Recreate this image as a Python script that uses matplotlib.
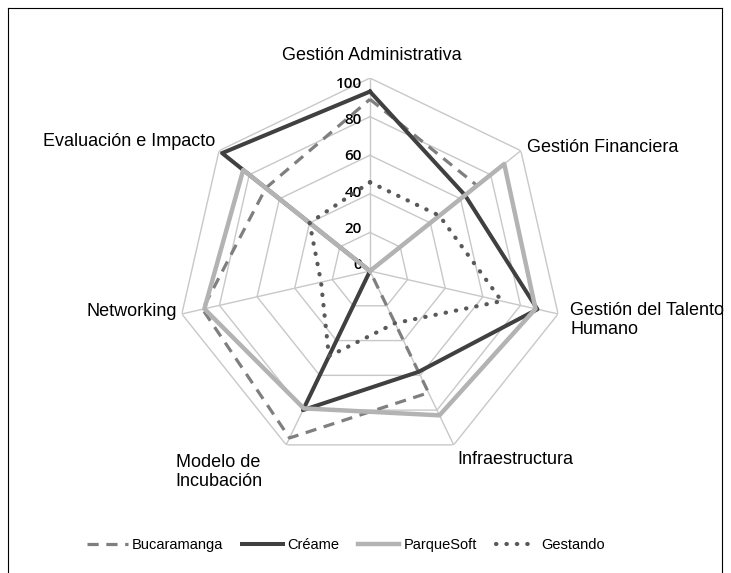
import matplotlib
matplotlib.use('Agg')

import numpy as np
from matplotlib import pyplot as plt
from matplotlib.lines import Line2D

categories = ["Gestión Administrativa", "Gestión Financiera", "Gestión del Talento\nHumano",
              "Infraestructura", "Modelo de\nIncubación", "Networking", "Evaluación e Impacto"]
bucaramanga = [89, 71, 0, 70, 96, 89, 69]
creame = [93, 63, 89, 58, 80, 0, 98]
parquesoft = [0, 89, 88, 83, 79, 88, 84]
gestando = [46, 46, 70, 30, 49, 26, 40]
levels = [0, 20, 40, 60, 80, 100]

# label placement relative to the outer vertex of each spoke (pixels)
label_style = [
    ('center', 'center', 2, 23),
    ('left', 'center', 6, 3),
    ('left', 'center', 12, -6),
    ('left', 'center', 4, -15),
    ('right', 'center', -24, -27),
    ('right', 'center', -5, 2),
    ('right', 'center', -4, 9),
]


def closed(vals):
    return list(vals) + [vals[0]]


def main():
    n = len(categories)
    theta = [2 * np.pi * i / n for i in range(n)]
    th = closed(theta)

    fig = plt.figure(figsize=(7.31, 5.73), dpi=100)
    ax = fig.add_axes([0.2421, 0.1902, 0.528, 0.6736], projection='polar')
    ax.set_theta_zero_location('N')
    ax.set_theta_direction(-1)
    ax.set_ylim(0, 100)
    ax.grid(False)
    ax.spines['polar'].set_visible(False)
    ax.patch.set_visible(False)
    ax.set_xticks([])
    ax.set_yticks([])

    grid_color = '#c8c8c8'
    for lv in levels[1:]:
        ax.plot(th, [lv] * (n + 1), color=grid_color, lw=1.0, zorder=1)
    for t in theta:
        ax.plot([t, t], [0, 100], color=grid_color, lw=1.0, zorder=1)

    ax.plot(th, closed(bucaramanga), color='#7f7f7f', lw=2.3, ls=(0, (3.5, 2.4)),
            label='Bucaramanga', zorder=3)
    ax.plot(th, closed(creame), color='#404040', lw=2.9, label='Créame', zorder=4)
    ax.plot(th, closed(parquesoft), color='#b3b3b3', lw=3.2, label='ParqueSoft', zorder=5)
    ax.plot(th, closed(gestando), color='#595959', lw=3.0, ls=(0, (0.1, 2.4)),
            dash_capstyle='round', label='Gestando', zorder=6)

    for lv in levels:
        ax.annotate(str(lv), xy=(0, lv), xytext=(-8, 6 - 0.12 * lv),
                    textcoords='offset pixels', ha='right', va='center',
                    fontsize=11, fontweight='semibold', family='Open Sans', color='black')

    for t, name, (ha, va, dx, dy) in zip(theta, categories, label_style):
        ax.annotate(name, xy=(t, 100), xytext=(dx, dy), textcoords='offset pixels',
                    ha=ha, va=va, multialignment='left' if ha == 'left' else 'center',
                    fontsize=13, family='Liberation Sans', color='black',
                    annotation_clip=False)

    fig.legend(loc='center', bbox_to_anchor=(0.473, 0.049), ncol=4, frameon=False,
               prop={'family': 'Liberation Sans', 'size': 10.5},
               handlelength=2.8, handletextpad=0.3, columnspacing=1.3)

    # chart-area border
    fig.add_artist(Line2D([8 / 731, 8 / 731], [0, 1 - 8 / 573], color='black', lw=0.8))
    fig.add_artist(Line2D([8 / 731, 722 / 731], [1 - 8 / 573, 1 - 8 / 573], color='black', lw=0.8))
    fig.add_artist(Line2D([722 / 731, 722 / 731], [0, 1 - 8 / 573], color='black', lw=0.8))

    fig.savefig("out.png", dpi=100, facecolor='white')


if __name__ == "__main__":
    main()
